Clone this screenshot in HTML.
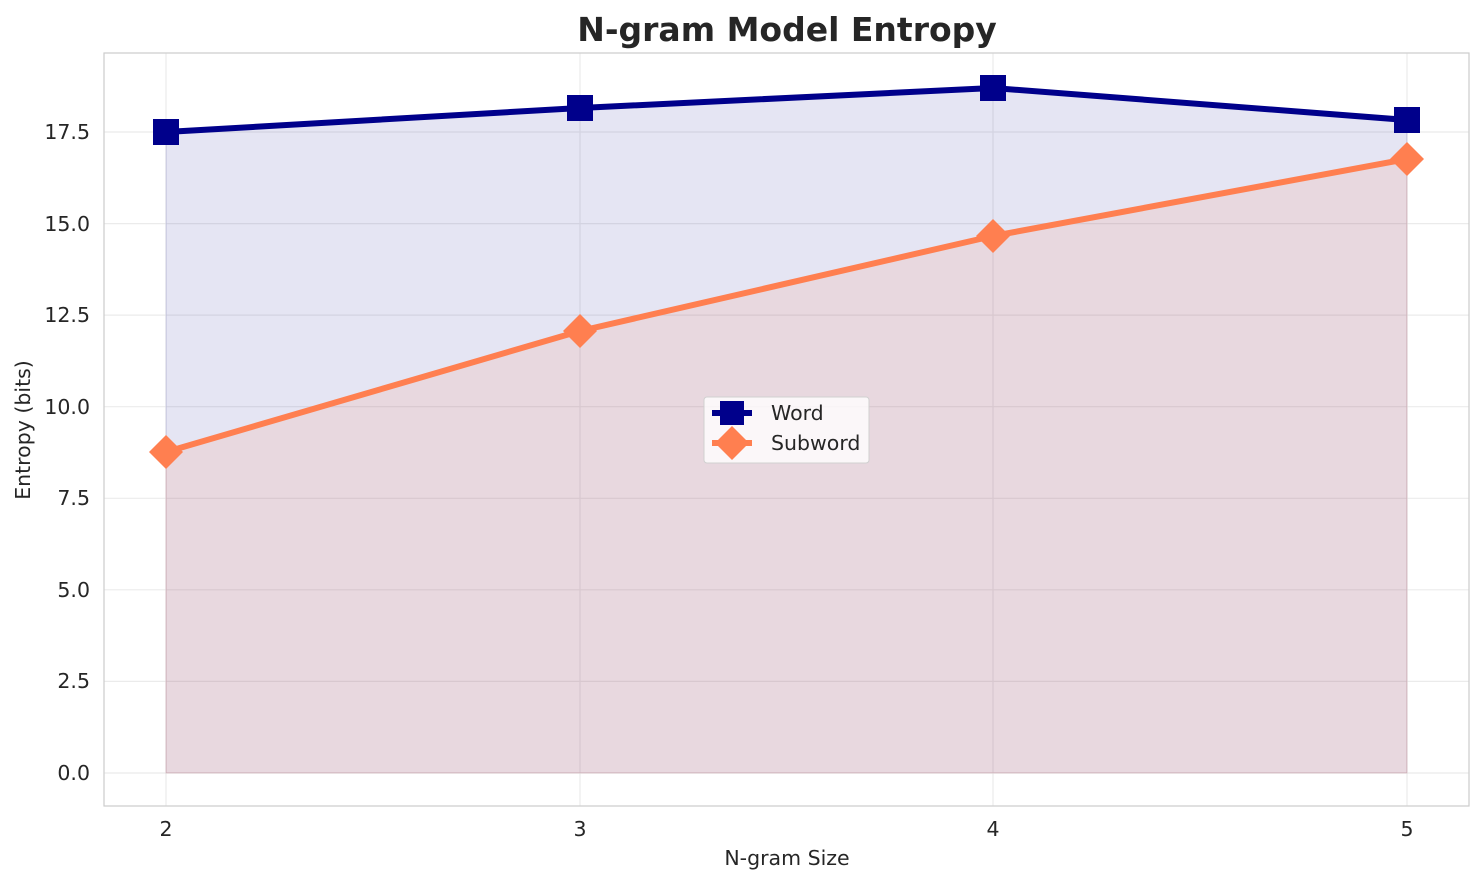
<!DOCTYPE html>
<html><head><meta charset="utf-8"><style>
html,body{margin:0;padding:0;background:#fff;}
svg{display:block;font-family:"DejaVu Sans","Liberation Sans",sans-serif;}
</style></head><body>
<svg width="1484" height="885" viewBox="0 0 1484 885" xmlns="http://www.w3.org/2000/svg">
<rect width="1484" height="885" fill="#fff"/>
<g stroke="#ebebeb" stroke-width="1.2">
<line x1="166" y1="53" x2="166" y2="806"/><line x1="580" y1="53" x2="580" y2="806"/>
<line x1="993" y1="53" x2="993" y2="806"/><line x1="1407" y1="53" x2="1407" y2="806"/>
<line x1="104" y1="773" x2="1469" y2="773"/><line x1="104" y1="681.4" x2="1469" y2="681.4"/>
<line x1="104" y1="589.8" x2="1469" y2="589.8"/><line x1="104" y1="498.3" x2="1469" y2="498.3"/>
<line x1="104" y1="406.7" x2="1469" y2="406.7"/><line x1="104" y1="315.1" x2="1469" y2="315.1"/>
<line x1="104" y1="223.6" x2="1469" y2="223.6"/><line x1="104" y1="132" x2="1469" y2="132"/>
</g>
<polygon points="166,773 166,132 580,108 993,88 1407,120 1407,773" fill="#00008b" fill-opacity="0.1" stroke="#00008b" stroke-opacity="0.1"/>
<polygon points="166,773 166,452 580,331 993,236 1407,159 1407,773" fill="#ff7f50" fill-opacity="0.12" stroke="#ff7f50" stroke-opacity="0.15"/>
<rect x="104" y="53" width="1365" height="753" fill="none" stroke="#cccccc" stroke-width="1.2"/>
<polyline points="166,132 580,108 993,88 1407,120" fill="none" stroke="#00008b" stroke-width="6" stroke-linejoin="round"/>
<g fill="#00008b">
<rect x="153" y="119" width="26" height="26"/><rect x="567" y="95" width="26" height="26"/>
<rect x="980" y="75" width="26" height="26"/><rect x="1394" y="107" width="26" height="26"/>
</g>
<polyline points="166,452 580,331 993,236 1407,159" fill="none" stroke="#ff7f50" stroke-width="6" stroke-linejoin="round"/>
<g fill="#ff7f50">
<polygon points="166,435 183,452 166,469 149,452"/><polygon points="580,314 597,331 580,348 563,331"/>
<polygon points="993,219 1010,236 993,253 976,236"/><polygon points="1407,142 1424,159 1407,176 1390,159"/>
</g>
<g font-size="20.5" fill="#262626" text-anchor="end">
<text x="90" y="780">0.0</text><text x="90" y="688">2.5</text><text x="90" y="597">5.0</text>
<text x="90" y="505">7.5</text><text x="90" y="414">10.0</text><text x="90" y="322">12.5</text>
<text x="90" y="231">15.0</text><text x="90" y="139">17.5</text>
</g>
<g font-size="20.5" fill="#262626" text-anchor="middle">
<text x="166" y="836">2</text><text x="580" y="836">3</text><text x="993" y="836">4</text><text x="1407" y="836">5</text>
<text x="787" y="865">N-gram Size</text>
</g>
<text transform="translate(30,430) rotate(-90)" font-size="20.5" fill="#262626" text-anchor="middle">Entropy (bits)</text>
<text x="787" y="41" font-size="33" font-weight="bold" fill="#262626" text-anchor="middle">N-gram Model Entropy</text>
<rect x="704" y="397" width="165" height="66" rx="3" fill="#fff" fill-opacity="0.8" stroke="#d0d0d0"/>
<line x1="712" y1="413" x2="752" y2="413" stroke="#00008b" stroke-width="6"/>
<rect x="720" y="401" width="24" height="24" fill="#00008b"/>
<line x1="712" y1="443" x2="752" y2="443" stroke="#ff7f50" stroke-width="6"/>
<polygon points="732,426 749,443 732,460 715,443" fill="#ff7f50"/>
<text x="771" y="420" font-size="20.5" fill="#262626">Word</text>
<text x="771" y="450" font-size="20.5" fill="#262626">Subword</text>
</svg>
</body></html>
